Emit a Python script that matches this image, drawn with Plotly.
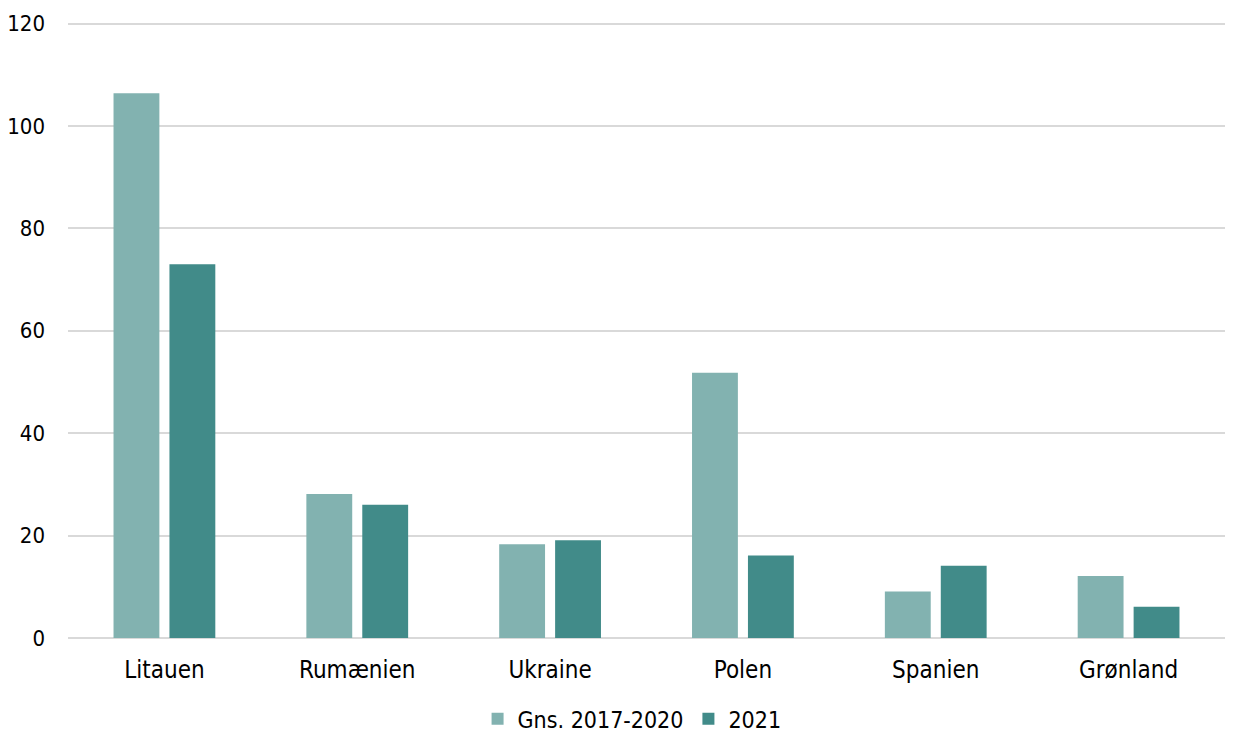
import plotly.graph_objects as go

categories = ["Litauen", "Rumænien", "Ukraine", "Polen", "Spanien", "Grønland"]
gns_2017_2020 = [106.4, 28.1, 18.3, 51.8, 9.1, 12.1]
y2021 = [73.0, 26.0, 19.1, 16.1, 14.1, 6.1]
y_ticks = [0, 20, 40, 60, 80, 100, 120]

FONT = "DejaVu Sans Condensed, DejaVu Sans"

fig = go.Figure()
fig.add_trace(go.Bar(name="Gns. 2017-2020", x=categories, y=gns_2017_2020,
                     marker=dict(color="#82B2B0", line=dict(width=0))))
fig.add_trace(go.Bar(name="2021", x=categories, y=y2021,
                     marker=dict(color="#418B89", line=dict(width=0))))

fig.update_layout(
    template="none",
    width=1228, height=731,
    margin=dict(l=60, r=11, t=14, b=101, pad=0, autoexpand=False),
    paper_bgcolor="white", plot_bgcolor="white",
    barmode="group", bargap=0.42, bargroupgap=0.18,
    font=dict(family=FONT, size=23, color="#000000"),
    legend=dict(orientation="h", x=0.354, xanchor="left", y=-0.131, yanchor="middle",
                font=dict(size=23), traceorder="normal", borderwidth=0,
                bgcolor="rgba(0,0,0,0)"),
    showlegend=True,
)
fig.update_xaxes(showgrid=False, showline=False, ticks="", tickfont=dict(size=24),
                 automargin=False, ticklabelstandoff=15)
fig.update_yaxes(range=[0, 120.3], tickvals=y_ticks, showgrid=True, gridcolor="#D9D9D9",
                 gridwidth=2, zeroline=True, zerolinecolor="#D9D9D9", zerolinewidth=2,
                 showline=False, ticks="", ticklabelstandoff=22, tickfont=dict(size=22),
                 automargin=False)

fig.write_html("out.html")
